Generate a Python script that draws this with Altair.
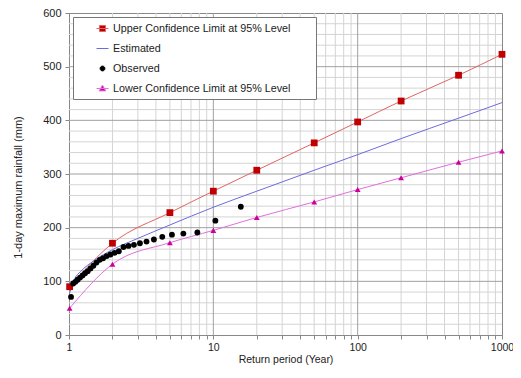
import altair as alt
import pandas as pd

# ---------------- data ----------------
series_names = [
    "Upper Confidence Limit at 95% Level",
    "Estimated",
    "Observed",
    "Lower Confidence Limit at 95% Level",
]

T_ci = [1.01, 2, 5, 10, 20, 50, 100, 200, 500, 1000]
upper = [90, 171, 228, 268, 307, 358, 397, 436, 484, 523]
lower = [50, 132, 172, 195, 219, 248, 271, 293, 322, 343]

T_est = [1.01, 1.1, 1.2, 1.5, 2, 3, 5, 10, 20, 50, 100, 200, 500, 1000]
est = [78, 106, 118, 139, 159, 180, 205, 238, 268, 307, 336, 366, 404, 433]

T_obs = [1.033, 1.069, 1.107, 1.148, 1.192, 1.24, 1.292, 1.348, 1.409, 1.476,
         1.55, 1.632, 1.722, 1.824, 1.938, 2.067, 2.214, 2.385, 2.583, 2.818,
         3.1, 3.444, 3.875, 4.429, 5.167, 6.2, 7.75, 10.33, 15.5]
obs = [71, 96, 99, 103, 107, 111, 115, 119, 124, 129,
       135, 140, 143, 147, 150, 153, 156, 164, 166, 168,
       171, 174, 178, 183, 187, 189, 191, 213, 239]

x_minor_grid = [2, 3, 4, 5, 6, 7, 8, 9, 20, 30, 40, 50, 60, 70, 80, 90,
                200, 300, 400, 500, 600, 700, 800, 900]
x_major_grid = [10, 100]
x_tick_values = [1, 2, 3, 4, 5, 6, 7, 8, 9, 10, 20, 30, 40, 50, 60, 70, 80, 90,
                 100, 200, 300, 400, 500, 600, 700, 800, 900, 1000]
y_minor_grid = [v for v in range(20, 600, 20) if v % 100 != 0]
y_major_grid = [100, 200, 300, 400, 500]
y_tick_values = [0, 100, 200, 300, 400, 500, 600]

# ---------------- styling ----------------
FONT = "Liberation Sans"
line_colors = ["#E06464", "#6C6CE0", "#000000", "#E070DC"]
legend_fill = ["#C00000", "#8C8CE0", "#000000", "#CC0099"]
legend_stroke = ["#D04848", "#8C8CE0", "#000000", "#D050C0"]
legend_shapes = [
    "M-1,0H1M-0.5,-0.5H0.5V0.5H-0.5Z",
    "M-1,0H1",
    "M-0.4,0A0.4,0.4 0 1,1 0.4,0A0.4,0.4 0 1,1 -0.4,0Z",
    "M-1,0H1M0,-0.55L0.55,0.4H-0.55Z",
]

xscale = alt.Scale(type="log", domain=[1, 1000], nice=False)
yscale = alt.Scale(domain=[0, 600], nice=False)

x_axis = alt.Axis(
    values=x_tick_values,
    labelExpr="(datum.value == 1 || datum.value == 10 || datum.value == 100 || datum.value == 1000) ? datum.label : ''",
    format="d",
    grid=False, tickSize=4, tickColor="#888888", domainColor="#888888",
    labelFont=FONT, labelFontSize=10.5, labelColor="#222222", labelPadding=3,
    labelOverlap=False, labelFlush=False,
    title="Return period (Year)", titleFont=FONT, titleFontSize=10.5,
    titleFontWeight="normal", titleColor="#222222",
    titleBaseline="alphabetic", titleY=27,
)
y_axis = alt.Axis(
    values=y_tick_values, grid=False, tickSize=4, tickColor="#888888",
    domainColor="#888888", labelFont=FONT, labelFontSize=11,
    labelColor="#222222", labelPadding=4,
    title="1-day maximum rainfall (mm)", titleFont=FONT, titleFontSize=11,
    titleFontWeight="normal", titleColor="#222222", titleX=-46, titleY=174,
)

X = lambda f: alt.X(f, type="quantitative", scale=xscale, axis=x_axis)
Y = lambda f: alt.Y(f, type="quantitative", scale=yscale, axis=y_axis)

# ---------------- legend (shared by all series channels) ----------------
leg = alt.Legend(
    title="\u00a0", titleOrient="right", titlePadding=21, titleFontSize=10.75,
    orient="none", legendX=4, legendY=4,
    fillColor="white", strokeColor="#777777", padding=5,
    symbolSize=144, symbolOffset=18, symbolStrokeWidth=1,
    labelFont=FONT, labelFontSize=10.75, labelColor="#222222",
    labelOffset=4, labelLimit=400, rowPadding=8,
)

# ---------------- grid ----------------
vminor = alt.Chart(pd.DataFrame({"g": x_minor_grid})).mark_rule(
    color="#D4D4D4", strokeWidth=1).encode(x=X("g"))
vmajor = alt.Chart(pd.DataFrame({"g": x_major_grid})).mark_rule(
    color="#A0A0A0", strokeWidth=1).encode(x=X("g"))
hminor = alt.Chart(pd.DataFrame({"g": y_minor_grid})).mark_rule(
    color="#D4D4D4", strokeWidth=1).encode(y=Y("g"))
hmajor = alt.Chart(pd.DataFrame({"g": y_major_grid})).mark_rule(
    color="#A0A0A0", strokeWidth=1).encode(y=Y("g"))

# ---------------- lines ----------------
lines_df = pd.concat([
    pd.DataFrame({"T": T_ci, "v": upper, "s": series_names[0]}),
    pd.DataFrame({"T": T_est, "v": est, "s": series_names[1]}),
    pd.DataFrame({"T": T_ci, "v": lower, "s": series_names[3]}),
])
lines = alt.Chart(lines_df).mark_line(strokeWidth=1, interpolate="monotone").encode(
    x=X("T"), y=Y("v"),
    color=alt.Color("s:N", scale=alt.Scale(domain=series_names, range=line_colors),
                    legend=leg),
)

# ---------------- markers ----------------
up_pts = alt.Chart(pd.DataFrame({"T": T_ci, "v": upper})).mark_point(
    shape="square", filled=True, size=46, color="#C00000", opacity=1).encode(
    x=X("T"), y=Y("v"))
lo_pts = alt.Chart(pd.DataFrame({"T": T_ci, "v": lower})).mark_point(
    shape="triangle-up", filled=True, size=34, color="#CC0099", opacity=1).encode(
    x=X("T"), y=Y("v"))
obs_pts = alt.Chart(pd.DataFrame({"T": T_obs, "v": obs})).mark_point(
    shape="circle", filled=True, size=34, color="#000000", opacity=1).encode(
    x=X("T"), y=Y("v"))

# ---------------- legend symbols layer (its marks sit outside the plot and are clipped) ----------------
legend_df = pd.DataFrame({"s": series_names, "T": [2, 2, 2, 2], "v": [700, 700, 700, 700]})
legend_layer = alt.Chart(legend_df).mark_point(filled=True, opacity=1, clip=True, strokeWidth=1).encode(
    x=X("T"), y=Y("v"),
    fill=alt.Fill("s:N", scale=alt.Scale(domain=series_names, range=legend_fill), legend=leg),
    stroke=alt.Stroke("s:N", scale=alt.Scale(domain=series_names, range=legend_stroke), legend=leg),
    shape=alt.Shape("s:N", scale=alt.Scale(domain=series_names, range=legend_shapes), legend=leg),
)

chart = alt.layer(
    vminor, hminor, vmajor, hmajor, lines, up_pts, lo_pts, obs_pts, legend_layer
).properties(
    width=433, height=322,
    autosize=alt.AutoSizeParams(type="none"),
    padding={"left": 61, "top": 5, "right": 11, "bottom": 30},
).configure(
    background="white", font=FONT
).configure_view(
    stroke="#888888", strokeWidth=1
)

chart.save("out.html", embed_options={"renderer": "svg", "actions": False})
